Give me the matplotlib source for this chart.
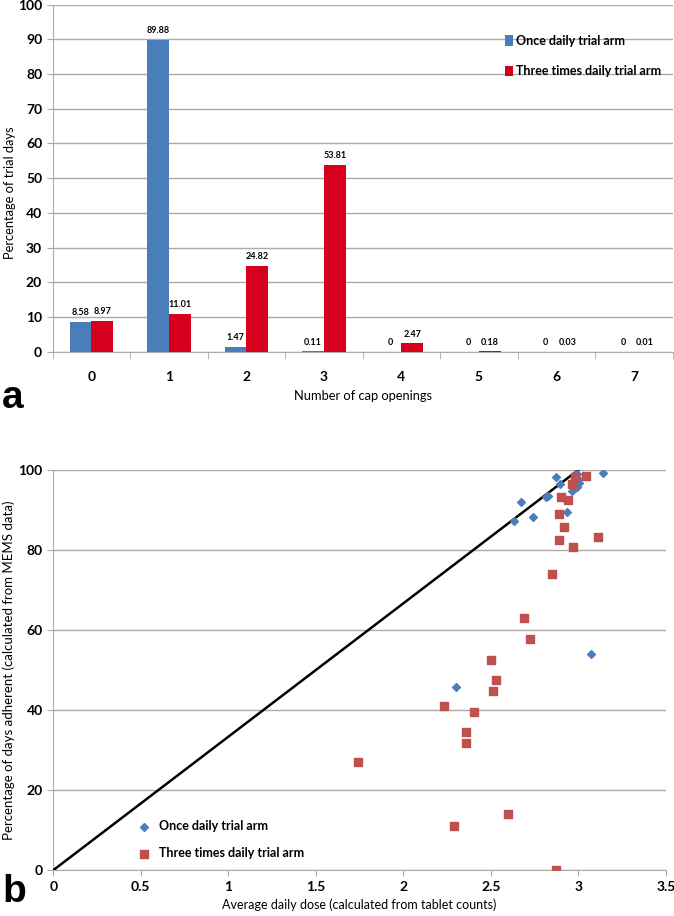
import matplotlib.pyplot as plt
import numpy as np

plt.rcParams['font.family'] = ['Lato', 'DejaVu Sans']

# panel a data
openings = [0, 1, 2, 3, 4, 5, 6, 7]
once_daily = [8.58, 89.88, 1.47, 0.11, 0, 0, 0, 0]
three_daily = [8.97, 11.01, 24.82, 53.81, 2.47, 0.18, 0.03, 0.01]

# panel b data
once_x = [3.143, 2.874, 2.893, 2.672, 2.815, 2.827, 2.634, 2.741, 2.935, 2.964,
          2.983, 2.996, 3.002, 2.992, 2.970, 2.978, 2.990, 3.072, 2.301]
once_y = [99.3, 98.3, 96.5, 92.1, 93.3, 93.5, 87.3, 88.2, 89.4, 94.75,
          98.75, 97.7, 96.7, 95.7, 97.3, 98.0, 99.0, 53.9, 45.7]
three_x = [3.042, 2.983, 2.962, 2.899, 2.943, 2.889, 2.920, 2.891, 3.110, 2.971,
           2.851, 2.689, 2.721, 2.503, 2.530, 2.510, 2.232, 2.402, 2.360, 2.360,
           1.743, 2.600, 2.291, 2.870]
three_y = [98.5, 98.2, 96.5, 93.3, 92.5, 88.9, 85.7, 82.4, 83.2, 80.7,
           74.1, 63.0, 57.8, 52.6, 47.4, 44.7, 41.1, 39.5, 34.4, 31.7,
           27.0, 14.0, 11.0, 0.0]

blue = '#4a7ebb'
red_a = '#d6001c'
red_b = '#c0504d'
grid_c = '#b0a8a4'

fig = plt.figure(figsize=(6.74, 9.16), dpi=100)

# ---- panel a ----
ax1 = fig.add_axes([0.078, 0.616, 0.92, 0.379])
x = np.arange(len(openings))
w = 0.28
ax1.bar(x - w / 2, once_daily, w, color=blue, label='Once daily trial arm', zorder=3)
ax1.bar(x + w / 2, three_daily, w, color=red_a, label='Three times daily trial arm', zorder=3)
for i in range(len(openings)):
    ax1.text(x[i] - w / 2, once_daily[i] + 1.3, '%g' % once_daily[i], ha='center',
             va='bottom', fontsize=6.5, fontweight='bold')
    ax1.text(x[i] + w / 2, three_daily[i] + 1.3, '%g' % three_daily[i], ha='center',
             va='bottom', fontsize=6.5, fontweight='bold')
ax1.set_xlim(-0.5, 7.5)
ax1.set_ylim(0, 100)
ax1.set_yticks(range(0, 101, 10))
ax1.set_xticks(x)
ax1.set_xticklabels([str(o) for o in openings])
ax1.set_xticks(np.arange(-0.5, 8, 1), minor=True)
ax1.tick_params(axis='x', which='major', length=0, pad=14)
ax1.tick_params(axis='x', which='minor', length=5, color=grid_c)
ax1.tick_params(axis='y', length=4, color=grid_c)
for lab in ax1.get_xticklabels() + ax1.get_yticklabels():
    lab.set_fontweight('bold')
    lab.set_fontsize(10)
ax1.grid(axis='y', color=grid_c, linewidth=1, zorder=0)
for s in ['top', 'right']:
    ax1.spines[s].set_visible(False)
ax1.spines['left'].set_color(grid_c)
ax1.spines['bottom'].set_color(grid_c)
ax1.set_ylabel('Percentage of trial days', fontsize=9.3)
ax1.yaxis.set_label_coords(-0.059, 0.458)
ax1.set_xlabel('Number of cap openings', fontsize=9.3, labelpad=5)
ax1.legend(loc='upper right', bbox_to_anchor=(1.0, 0.945), frameon=False,
           prop={'size': 9, 'weight': 'bold'},
           handlelength=0.6, handleheight=0.9, handletextpad=0.3, labelspacing=1.45)
fig.text(0.003, 0.555, 'a', fontsize=28, fontweight='bold', family='Liberation Sans')

# ---- panel b ----
ax2 = fig.add_axes([0.079, 0.05, 0.909, 0.437])
ax2.plot([0, 3], [0, 100], color='black', linewidth=1.8, zorder=3)
ax2.scatter(once_x, once_y, marker='D', s=16, color=blue, label='Once daily trial arm', zorder=4)
ax2.scatter(three_x, three_y, marker='s', s=38, color=red_b, label='Three times daily trial arm', zorder=4)
ax2.set_xlim(0, 3.5)
ax2.set_ylim(0, 100)
ax2.set_xticks(np.arange(0, 3.51, 0.5))
ax2.set_xticklabels(['0', '0.5', '1', '1.5', '2', '2.5', '3', '3.5'])
ax2.set_yticks(range(0, 101, 20))
ax2.tick_params(axis='both', length=4, color=grid_c)
for lab in ax2.get_xticklabels() + ax2.get_yticklabels():
    lab.set_fontweight('bold')
    lab.set_fontsize(10)
ax2.grid(axis='y', color=grid_c, linewidth=1, zorder=0)
for s in ['top', 'right']:
    ax2.spines[s].set_visible(False)
ax2.spines['left'].set_color(grid_c)
ax2.spines['bottom'].set_color(grid_c)
ax2.set_ylabel('Percentage of days adherent (calculated from MEMS data)', fontsize=9.5)
ax2.yaxis.set_label_coords(-0.062, 0.5)
ax2.set_xlabel('Average daily dose (calculated from tablet counts)', fontsize=9, labelpad=4)
ax2.legend(loc='lower left', bbox_to_anchor=(0.11, 0.0), frameon=False,
           prop={'size': 9, 'weight': 'bold'},
           handletextpad=0.2, labelspacing=1.2, scatterpoints=1)
fig.text(0.003, 0.015, 'b', fontsize=28, fontweight='bold', family='Liberation Sans')

fig.savefig('out.png', dpi=100)
